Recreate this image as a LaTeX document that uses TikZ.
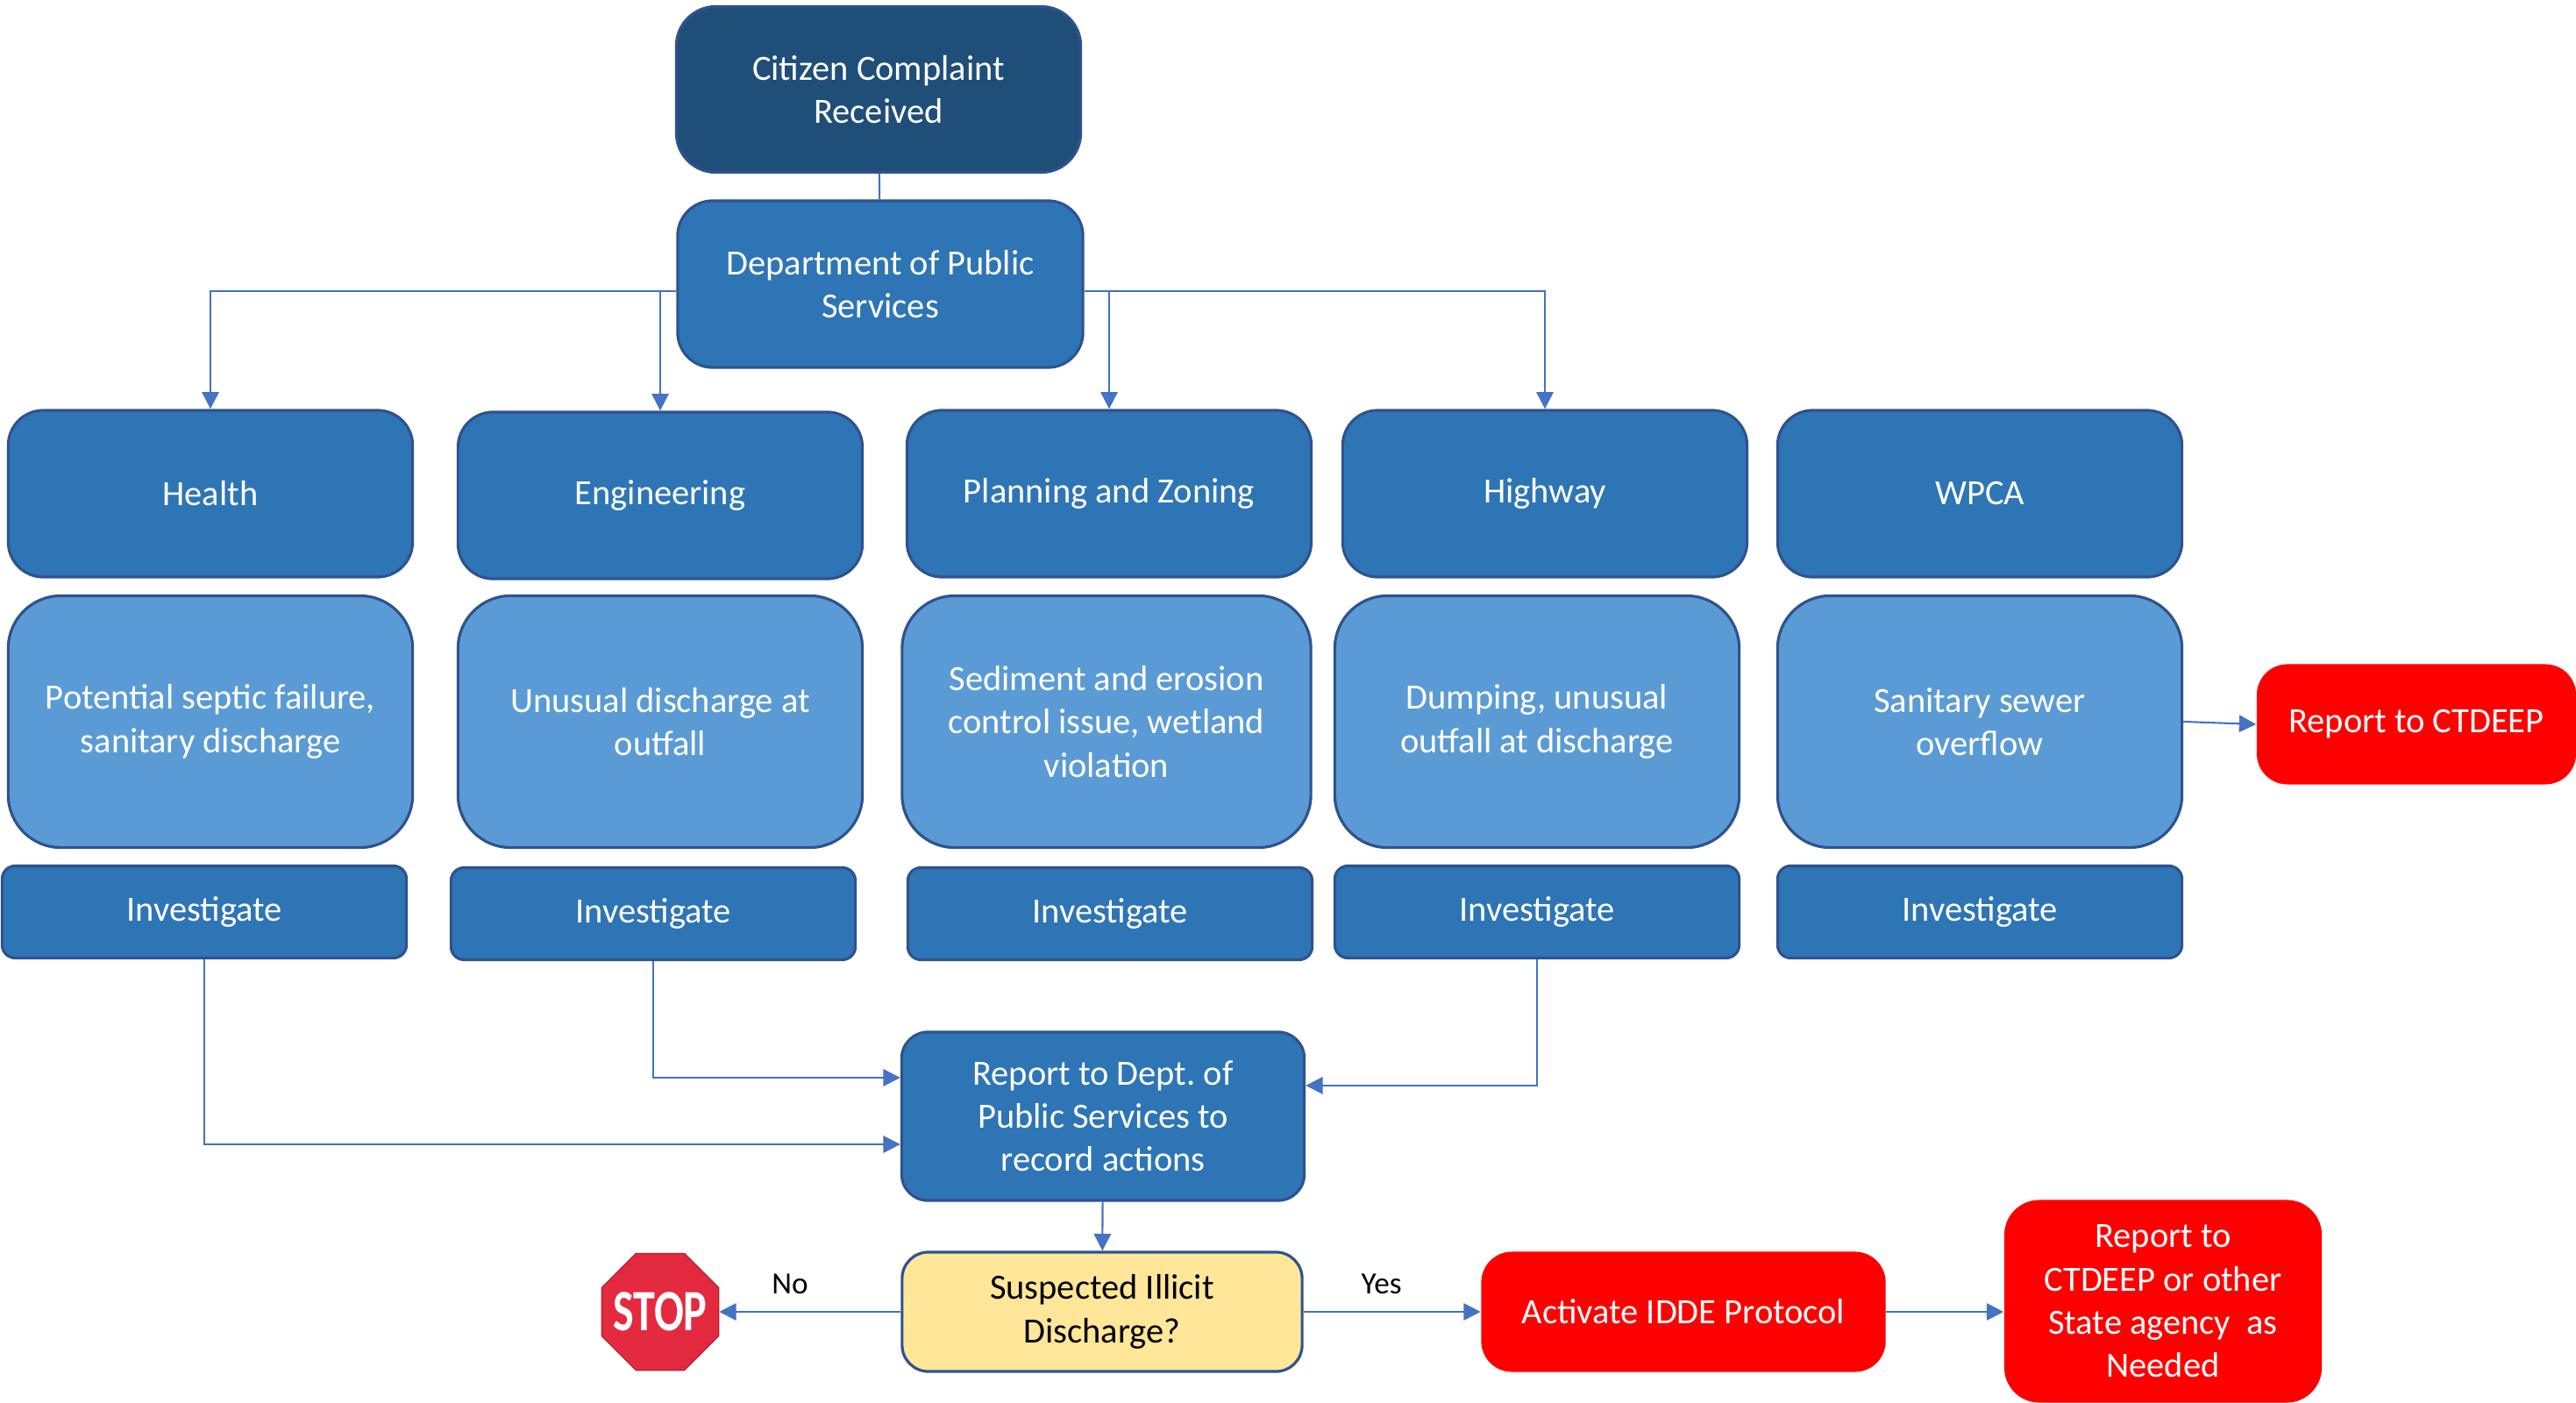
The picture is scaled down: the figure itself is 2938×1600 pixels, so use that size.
\documentclass[tikz,border=0pt]{standalone}
\usepackage{fontspec}
\setmainfont{Carlito}
\usepackage{xcolor}
\usetikzlibrary{arrows.meta,shapes.geometric}
\definecolor{darkbl}{HTML}{1F4E79}
\definecolor{midbl}{HTML}{2E75B6}
\definecolor{litebl}{HTML}{5B9BD5}
\definecolor{bdrbl}{HTML}{2F528F}
\definecolor{lnkbl}{HTML}{4472C4}
\definecolor{suspy}{HTML}{FFE699}
\definecolor{stopred}{HTML}{E42A3F}
\newcommand{\txt}{\fontsize{11.5}{14}\selectfont}

\begin{document}
\begin{tikzpicture}[x=0.01cm,y=-0.01cm]
	\tikzset{box/.style={draw=bdrbl,line width=0.9pt,text=white,align=center,font=\txt,minimum width=4.61cm}}
	\tikzset{dept/.style={box,fill=midbl,minimum height=1.9cm,rounded corners=0.4cm}}
	\tikzset{desc/.style={box,fill=litebl,minimum height=2.87cm,rounded corners=0.6cm}}
	\tikzset{inv/.style={box,fill=midbl,minimum height=1.05cm,rounded corners=0.15cm}}
	\tikzset{alert/.style={fill=red,text=white,align=center,font=\txt,rounded corners=0.35cm}}
	\tikzset{link/.style={draw=lnkbl,line width=0.6pt}}
	\tikzset{arr/.style={link,-{Triangle[length=5.5pt,width=5.5pt]}}}
	\useasboundingbox (0,0) rectangle (2938,1600);
	\node[dept,fill=darkbl,minimum height=1.89cm,rounded corners=0.45cm] (cit) at (1002,102) {Citizen Complaint\\Received};
	\node[dept,minimum width=4.62cm] (dps) at (1004,324) {Department of Public\\Services};
	% departments
	\node[dept] (hlth) at (240,563) {Health};
	\node[dept] (eng) at (753,565) {Engineering};
	\node[dept] (plan) at (1265,563) {Planning and Zoning};
	\node[dept] (hwy) at (1762,563) {Highway};
	\node[dept] (wpca) at (2258,563) {WPCA};
	\node[desc] (hdsc) at (240,823) {Potential septic failure,\\sanitary discharge};
	\node[desc] (edsc) at (753,823) {Unusual discharge at\\outfall};
	\node[desc,minimum width=4.66cm] (pdsc) at (1262,823) {Sediment and erosion\\control issue, wetland\\violation};
	\node[desc] (wydsc) at (1753,823) {Dumping, unusual\\outfall at discharge};
	\node[desc] (wdsc) at (2258,823) {Sanitary sewer\\overflow};
	\node[inv] (hinv) at (233,1040) {Investigate};
	\node[inv] (einv) at (745,1042) {Investigate};
	\node[inv] (pinv) at (1266,1042) {Investigate};
	\node[inv] (yinv) at (1753,1040) {Investigate};
	\node[inv] (winv) at (2258,1040) {Investigate};
	\node[alert,minimum width=3.64cm,minimum height=1.37cm] (ctd) at (2756,826) {Report to CTDEEP};
	% reporting
	\node[dept,minimum width=4.59cm,minimum height=1.92cm,rounded corners=0.3cm] (rep) at (1258,1273) {Report to Dept.\ of\\Public Services to\\record actions};
	\node[dept,fill=suspy,text=black,minimum width=4.56cm,minimum height=1.36cm,rounded corners=0.3cm] (sus) at (1257,1496) {Suspected Illicit\\Discharge?};
	\node[alert,minimum width=4.61cm,minimum height=1.37cm] (act) at (1920,1496) {Activate IDDE Protocol};
	\node[alert,minimum width=3.62cm,minimum height=2.31cm,rounded corners=0.4cm] (oth) at (2467,1484) {Report to\\CTDEEP or other\\State agency~ as\\Needed};
	\node[regular polygon,regular polygon sides=8,minimum size=1.44cm,fill=stopred,draw=stopred!80!black,line width=0.4pt,inner sep=0pt] (stop) at (753,1496) {};
	\node[text=white,font=\bfseries\fontsize{19}{19}\selectfont,inner sep=0pt] (stoptxt) at (stop) {\scalebox{0.75}[1]{STOP}};
	\draw[link] (cit) -- (dps);
	\draw[arr] ([yshift=-0.08cm]dps.west) -| (hlth.north);
	\draw[arr] ([yshift=-0.08cm]dps.west) -| (eng.north);
	\draw[arr] ([yshift=-0.08cm]dps.east) -| (plan.north);
	\draw[arr] ([yshift=-0.08cm]dps.east) -| (hwy.north);
	\draw[arr] (wdsc.east) -- (ctd.west);
	\draw[arr] (hinv.south) |- ([yshift=-0.32cm]rep.west);
	\draw[arr] (einv.south) |- ([yshift=0.44cm]rep.west);
	\draw[arr] (yinv.south) |- ([yshift=0.35cm]rep.east);
	\draw[arr] (rep) -- (sus);
	\draw[arr] (sus) -- node[pos=0.61,above,yshift=2pt,font=\fontsize{10}{12}\selectfont] {No} (stop);
	\draw[arr] (sus) -- node[pos=0.44,above,yshift=2pt,font=\fontsize{10}{12}\selectfont] {Yes} (act);
	\draw[arr] (act) -- (oth.west |- act.east);
\end{tikzpicture}
\end{document}
